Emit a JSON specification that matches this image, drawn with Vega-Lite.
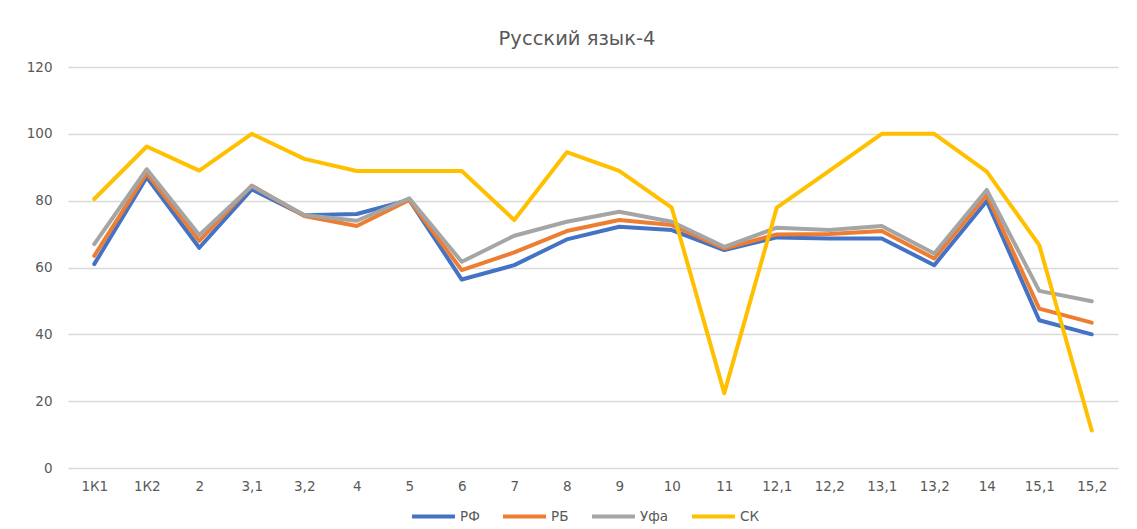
{
  "$schema": "https://vega.github.io/schema/vega-lite/v6.json",
  "autosize": "none",
  "width": 1050,
  "height": 401,
  "padding": {"left": 68, "top": 67, "right": 19, "bottom": 62},
  "background": "white",
  "title": {
    "text": "Русский язык-4",
    "font": "DejaVu Sans",
    "fontSize": 19.5,
    "fontWeight": "normal",
    "color": "#595959",
    "anchor": "middle",
    "dx": -16,
    "offset": 11
  },
  "config": {
    "view": {"stroke": null},
    "axis": {"labelFont": "DejaVu Sans", "labelColor": "#595959", "labelFontSize": 13.5, "title": null},
    "legend": {"labelFont": "DejaVu Sans", "labelColor": "#595959", "labelFontSize": 13.5}
  },
  "data": {
    "values": [
      {"cat": "1К1", "series": "РФ", "value": 61},
      {"cat": "1К2", "series": "РФ", "value": 87},
      {"cat": "2", "series": "РФ", "value": 65.9},
      {"cat": "3,1", "series": "РФ", "value": 83.4},
      {"cat": "3,2", "series": "РФ", "value": 75.6},
      {"cat": "4", "series": "РФ", "value": 76},
      {"cat": "5", "series": "РФ", "value": 80.2},
      {"cat": "6", "series": "РФ", "value": 56.4},
      {"cat": "7", "series": "РФ", "value": 60.7},
      {"cat": "8", "series": "РФ", "value": 68.4},
      {"cat": "9", "series": "РФ", "value": 72.2},
      {"cat": "10", "series": "РФ", "value": 71.2},
      {"cat": "11", "series": "РФ", "value": 65.2},
      {"cat": "12,1", "series": "РФ", "value": 69},
      {"cat": "12,2", "series": "РФ", "value": 68.7},
      {"cat": "13,1", "series": "РФ", "value": 68.7},
      {"cat": "13,2", "series": "РФ", "value": 60.7},
      {"cat": "14", "series": "РФ", "value": 79.9},
      {"cat": "15,1", "series": "РФ", "value": 44.2},
      {"cat": "15,2", "series": "РФ", "value": 40},
      {"cat": "1К1", "series": "РБ", "value": 63.5},
      {"cat": "1К2", "series": "РБ", "value": 88.2},
      {"cat": "2", "series": "РБ", "value": 68},
      {"cat": "3,1", "series": "РБ", "value": 84.5},
      {"cat": "3,2", "series": "РБ", "value": 75.4},
      {"cat": "4", "series": "РБ", "value": 72.4},
      {"cat": "5", "series": "РБ", "value": 80.2},
      {"cat": "6", "series": "РБ", "value": 59.2},
      {"cat": "7", "series": "РБ", "value": 64.5},
      {"cat": "8", "series": "РБ", "value": 70.9},
      {"cat": "9", "series": "РБ", "value": 74.2},
      {"cat": "10", "series": "РБ", "value": 72.7},
      {"cat": "11", "series": "РБ", "value": 65.7},
      {"cat": "12,1", "series": "РБ", "value": 69.9},
      {"cat": "12,2", "series": "РБ", "value": 70},
      {"cat": "13,1", "series": "РБ", "value": 70.9},
      {"cat": "13,2", "series": "РБ", "value": 62.7},
      {"cat": "14", "series": "РБ", "value": 81.7},
      {"cat": "15,1", "series": "РБ", "value": 47.7},
      {"cat": "15,2", "series": "РБ", "value": 43.5},
      {"cat": "1К1", "series": "Уфа", "value": 67},
      {"cat": "1К2", "series": "Уфа", "value": 89.4},
      {"cat": "2", "series": "Уфа", "value": 69.7},
      {"cat": "3,1", "series": "Уфа", "value": 84.4},
      {"cat": "3,2", "series": "Уфа", "value": 75.7},
      {"cat": "4", "series": "Уфа", "value": 74},
      {"cat": "5", "series": "Уфа", "value": 80.7},
      {"cat": "6", "series": "Уфа", "value": 61.7},
      {"cat": "7", "series": "Уфа", "value": 69.5},
      {"cat": "8", "series": "Уфа", "value": 73.7},
      {"cat": "9", "series": "Уфа", "value": 76.7},
      {"cat": "10", "series": "Уфа", "value": 73.7},
      {"cat": "11", "series": "Уфа", "value": 66.2},
      {"cat": "12,1", "series": "Уфа", "value": 71.9},
      {"cat": "12,2", "series": "Уфа", "value": 71.2},
      {"cat": "13,1", "series": "Уфа", "value": 72.4},
      {"cat": "13,2", "series": "Уфа", "value": 64.2},
      {"cat": "14", "series": "Уфа", "value": 83.2},
      {"cat": "15,1", "series": "Уфа", "value": 53},
      {"cat": "15,2", "series": "Уфа", "value": 49.9},
      {"cat": "1К1", "series": "СК", "value": 80.5},
      {"cat": "1К2", "series": "СК", "value": 96.2},
      {"cat": "2", "series": "СК", "value": 89},
      {"cat": "3,1", "series": "СК", "value": 100},
      {"cat": "3,2", "series": "СК", "value": 92.5},
      {"cat": "4", "series": "СК", "value": 88.9},
      {"cat": "5", "series": "СК", "value": 88.9},
      {"cat": "6", "series": "СК", "value": 88.9},
      {"cat": "7", "series": "СК", "value": 74.2},
      {"cat": "8", "series": "СК", "value": 94.5},
      {"cat": "9", "series": "СК", "value": 88.9},
      {"cat": "10", "series": "СК", "value": 77.9},
      {"cat": "11", "series": "СК", "value": 22.4},
      {"cat": "12,1", "series": "СК", "value": 77.9},
      {"cat": "12,2", "series": "СК", "value": 88.9},
      {"cat": "13,1", "series": "СК", "value": 100},
      {"cat": "13,2", "series": "СК", "value": 100},
      {"cat": "14", "series": "СК", "value": 88.7},
      {"cat": "15,1", "series": "СК", "value": 66.7},
      {"cat": "15,2", "series": "СК", "value": 11.2}
    ]
  },
  "mark": {"type": "line", "strokeWidth": 4, "strokeJoin": "round", "strokeCap": "round"},
  "encoding": {
    "x": {
      "field": "cat",
      "type": "ordinal",
      "sort": null,
      "scale": {
        "type": "point",
        "padding": 0.5,
        "domain": ["1К1", "1К2", "2", "3,1", "3,2", "4", "5", "6", "7", "8", "9", "10", "11", "12,1", "12,2", "13,1", "13,2", "14", "15,1", "15,2"]
      },
      "axis": {"domain": false, "ticks": false, "labelAngle": 0, "labelPadding": 11, "grid": false}
    },
    "y": {
      "field": "value",
      "type": "quantitative",
      "scale": {"domain": [0, 120], "nice": false},
      "axis": {"values": [0, 20, 40, 60, 80, 100, 120], "domain": false, "ticks": false, "labelPadding": 16, "gridColor": "#D9D9D9", "gridWidth": 1.3}
    },
    "color": {
      "field": "series",
      "type": "nominal",
      "scale": {"domain": ["РФ", "РБ", "Уфа", "СК"], "range": ["#4472C4", "#ED7D31", "#A5A5A5", "#FFC000"]},
      "legend": {
        "title": null,
        "orient": "none",
        "direction": "horizontal",
        "legendX": 342,
        "legendY": 426,
        "gridAlign": "none",
        "symbolType": "stroke",
        "symbolSize": 1849,
        "symbolStrokeWidth": 4,
        "labelOffset": 3,
        "columnPadding": 15
      }
    }
  }
}
